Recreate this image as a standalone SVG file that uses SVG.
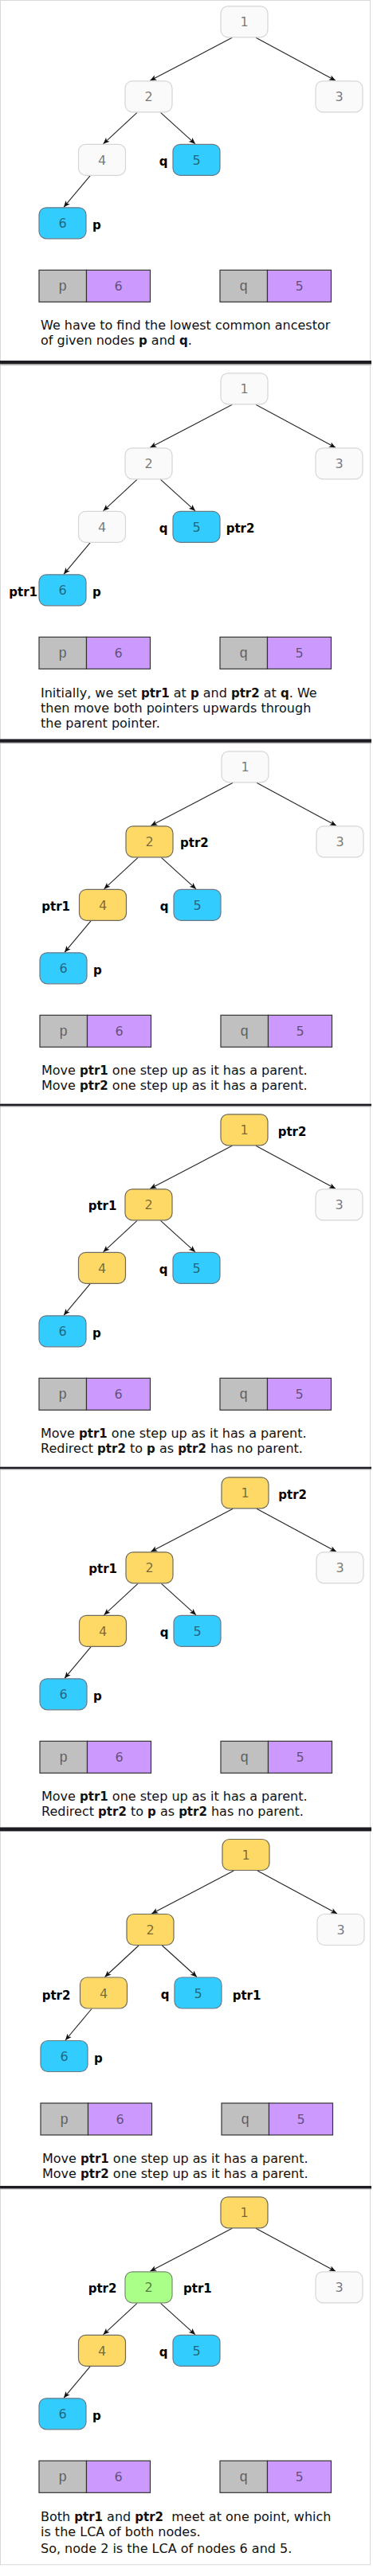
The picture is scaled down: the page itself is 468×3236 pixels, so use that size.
<svg xmlns="http://www.w3.org/2000/svg" width="468" height="3236" viewBox="0 0 468 3236">
<style>
.frame{fill:#fff;stroke:#d9d9d9;stroke-width:1}
.bar{fill:#1c1c22}
.barl{fill:#9a9a9a}
.nw{fill:#fafafa;stroke:#d6d6d6;stroke-width:1.2}
.nc{fill:#33ccff;stroke:#6a7a85;stroke-width:1.2}
.ny{fill:#ffd966;stroke:#6e6a5a;stroke-width:1.2}
.ng{fill:#aaff88;stroke:#7a8a72;stroke-width:1.2}
.num{font-family:"DejaVu Sans",Verdana,sans-serif;font-size:16px;fill:#1a1a1a;fill-opacity:.6;text-anchor:middle}
.tl{font-family:"Liberation Mono","Courier New",monospace;font-size:18px;fill:#1a1a1a;fill-opacity:.6;text-anchor:middle}
.tk{fill:#c0c0c0;stroke:#333;stroke-width:1.2}
.tv{fill:#cc99ff;stroke:#333;stroke-width:1.2}
.lbl{font-family:"DejaVu Sans",Verdana,sans-serif;font-size:15px;font-weight:bold;fill:#000}
.end{text-anchor:end}
.d{font-family:"DejaVu Sans",Verdana,sans-serif;font-size:16px;fill:#111;white-space:pre}
.b{font-weight:bold;font-size:15px}
.e{stroke:#222;stroke-width:1.1;fill:none;marker-end:url(#ah)}
</style>
<defs>
<marker id="ah" markerUnits="userSpaceOnUse" markerWidth="9" markerHeight="8" refX="8" refY="4" orient="auto">
<path d="M0,0.6 L8,4 L0,7.4 L2,4 Z" fill="#111"/>
</marker>
</defs>
<rect width="468" height="3236" fill="#fff"/>
<g id="frames">
<rect class="frame" x="0.5" y="0.5" width="464" height="453"/>
<rect class="frame" x="0.5" y="458.7" width="464" height="470"/>
<rect class="frame" x="0.5" y="933" width="464" height="454"/>
<rect class="frame" x="0.5" y="1389.3" width="464" height="454"/>
<rect class="frame" x="0.5" y="1845.3" width="464" height="451"/>
<rect class="frame" x="0.5" y="2300" width="464" height="446"/>
<rect class="frame" x="0.5" y="2749.3" width="464" height="472.5"/>
<rect class="bar" x="0" y="453" width="466" height="4.3"/><rect class="barl" x="0" y="457.3" width="466" height="1.2"/>
<rect class="bar" x="0" y="928.5" width="466" height="4.3"/><rect class="barl" x="0" y="932.8" width="466" height="1"/>
<rect class="bar" x="0" y="1386.7" width="466" height="2.7"/><rect class="barl" x="0" y="1389.4" width="466" height="1"/>
<rect class="bar" x="0" y="1842.7" width="466" height="2.6"/><rect class="barl" x="0" y="1845.3" width="466" height="1"/>
<rect class="bar" x="0" y="2295.5" width="466" height="4.5"/><rect class="barl" x="0" y="2300" width="466" height="1"/>
<rect class="bar" x="0" y="2746" width="466" height="3.3"/><rect class="barl" x="0" y="2749.3" width="466" height="1"/>
</g>

<g id="connectors">
<g transform="translate(0,7.3)">
<path class="e" d="M291.3,40 L188.3,94"/><path class="e" d="M321,40 L421,94"/><path class="e" d="M172,134 L129.5,173.5"/><path class="e" d="M201.5,134 L245,173.5"/><path class="e" d="M113,213.5 L80,253"/>
</g>
<g transform="translate(0,468.3)">
<path class="e" d="M291.3,40 L188.3,94"/><path class="e" d="M321,40 L421,94"/><path class="e" d="M172,134 L129.5,173.5"/><path class="e" d="M201.5,134 L245,173.5"/><path class="e" d="M113,213.5 L80,253"/>
</g>
<g transform="translate(1,943.3)">
<path class="e" d="M291.3,40 L188.3,94"/><path class="e" d="M321,40 L421,94"/><path class="e" d="M172,134 L129.5,173.5"/><path class="e" d="M201.5,134 L245,173.5"/><path class="e" d="M113,213.5 L80,253"/>
</g>
<g transform="translate(0,1399.3)">
<path class="e" d="M291.3,40 L188.3,94"/><path class="e" d="M321,40 L421,94"/><path class="e" d="M172,134 L129.5,173.5"/><path class="e" d="M201.5,134 L245,173.5"/><path class="e" d="M113,213.5 L80,253"/>
</g>
<g transform="translate(1,1855.3)">
<path class="e" d="M291.3,40 L188.3,94"/><path class="e" d="M321,40 L421,94"/><path class="e" d="M172,134 L129.5,173.5"/><path class="e" d="M201.5,134 L245,173.5"/><path class="e" d="M113,213.5 L80,253"/>
</g>
<g transform="translate(2,2310)">
<path class="e" d="M291.3,40 L188.3,94"/><path class="e" d="M321,40 L421,94"/><path class="e" d="M172,134 L129.5,173.5"/><path class="e" d="M201.5,134 L245,173.5"/><path class="e" d="M113,213.5 L80,253"/>
</g>
<g transform="translate(0,2759.3)">
<path class="e" d="M291.3,40 L188.3,94"/><path class="e" d="M321,40 L421,94"/><path class="e" d="M172,134 L129.5,173.5"/><path class="e" d="M201.5,134 L245,173.5"/><path class="e" d="M113,213.5 L80,253"/>
</g>
</g>

<!-- Panel 1 -->
<g id="panel1" transform="translate(0,7.3)">
<g id="p1-n1"><rect class="nw" x="277" y="0.5" width="59" height="39" rx="9"/><text class="num" x="306.5" y="26">1</text></g>
<g id="p1-n2"><rect class="nw" x="157" y="94.5" width="59" height="39" rx="9"/><text class="num" x="186.5" y="120">2</text></g>
<g id="p1-n3"><rect class="nw" x="396" y="94.5" width="59" height="39" rx="9"/><text class="num" x="425.5" y="120">3</text></g>
<g id="p1-n4"><rect class="nw" x="98.5" y="174" width="59" height="39" rx="9"/><text class="num" x="128" y="199.5">4</text></g>
<g id="p1-n5"><rect class="nc" x="217" y="174" width="59" height="39" rx="9"/><text class="num" x="246.5" y="199.5">5</text></g>
<g id="p1-n6"><rect class="nc" x="49" y="253.5" width="59" height="39" rx="9"/><text class="num" x="78.5" y="279">6</text></g>
<text class="lbl end" x="210.5" y="201">q</text>
<text class="lbl" x="116" y="281">p</text>
<g id="p1-tp"><rect class="tk" x="49" y="332" width="59.5" height="40"/><rect class="tv" x="108.5" y="332" width="80" height="40"/><text class="tl" x="78.7" y="358">p</text><text class="num" x="148.5" y="358">6</text></g>
<g id="p1-tq"><rect class="tk" x="276" y="332" width="59.5" height="40"/><rect class="tv" x="335.5" y="332" width="80" height="40"/><text class="tl" x="305.7" y="358">q</text><text class="num" x="375.5" y="358">5</text></g>
<text class="d" x="51" y="407">We have to find the lowest common ancestor</text>
<text class="d" x="51" y="426">of given nodes <tspan class="b">p</tspan> and <tspan class="b">q</tspan>.</text>
</g>

<!-- Panel 2 -->
<g id="panel2" transform="translate(0,468.3)">
<g id="p2-n1"><rect class="nw" x="277" y="0.5" width="59" height="39" rx="9"/><text class="num" x="306.5" y="26">1</text></g>
<g id="p2-n2"><rect class="nw" x="157" y="94.5" width="59" height="39" rx="9"/><text class="num" x="186.5" y="120">2</text></g>
<g id="p2-n3"><rect class="nw" x="396" y="94.5" width="59" height="39" rx="9"/><text class="num" x="425.5" y="120">3</text></g>
<g id="p2-n4"><rect class="nw" x="98.5" y="174" width="59" height="39" rx="9"/><text class="num" x="128" y="199.5">4</text></g>
<g id="p2-n5"><rect class="nc" x="217" y="174" width="59" height="39" rx="9"/><text class="num" x="246.5" y="199.5">5</text></g>
<g id="p2-n6"><rect class="nc" x="49" y="253.5" width="59" height="39" rx="9"/><text class="num" x="78.5" y="279">6</text></g>
<text class="lbl end" x="210.5" y="201">q</text>
<text class="lbl" x="116" y="281">p</text>
<text class="lbl end" x="47" y="281">ptr1</text>
<text class="lbl" x="283.7" y="201">ptr2</text>
<g id="p2-tp"><rect class="tk" x="49" y="332" width="59.5" height="40"/><rect class="tv" x="108.5" y="332" width="80" height="40"/><text class="tl" x="78.7" y="358">p</text><text class="num" x="148.5" y="358">6</text></g>
<g id="p2-tq"><rect class="tk" x="276" y="332" width="59.5" height="40"/><rect class="tv" x="335.5" y="332" width="80" height="40"/><text class="tl" x="305.7" y="358">q</text><text class="num" x="375.5" y="358">5</text></g>
<text class="d" x="51" y="407.5">Initially, we set <tspan class="b">ptr1</tspan> at <tspan class="b">p</tspan> and <tspan class="b">ptr2</tspan> at <tspan class="b">q</tspan>. We</text>
<text class="d" x="51" y="426.5">then move both pointers upwards through</text>
<text class="d" x="51" y="445.5">the parent pointer.</text>
</g>

<!-- Panel 3 -->
<g id="panel3" transform="translate(1,943.3)">
<g id="p3-n1"><rect class="nw" x="277" y="0.5" width="59" height="39" rx="9"/><text class="num" x="306.5" y="26">1</text></g>
<g id="p3-n2"><rect class="ny" x="157" y="94.5" width="59" height="39" rx="9"/><text class="num" x="186.5" y="120">2</text></g>
<g id="p3-n3"><rect class="nw" x="396" y="94.5" width="59" height="39" rx="9"/><text class="num" x="425.5" y="120">3</text></g>
<g id="p3-n4"><rect class="ny" x="98.5" y="174" width="59" height="39" rx="9"/><text class="num" x="128" y="199.5">4</text></g>
<g id="p3-n5"><rect class="nc" x="217" y="174" width="59" height="39" rx="9"/><text class="num" x="246.5" y="199.5">5</text></g>
<g id="p3-n6"><rect class="nc" x="49" y="253.5" width="59" height="39" rx="9"/><text class="num" x="78.5" y="279">6</text></g>
<text class="lbl end" x="210.5" y="201">q</text>
<text class="lbl" x="116" y="281">p</text>
<text class="lbl" x="225" y="121">ptr2</text>
<text class="lbl" x="51.3" y="200.7">ptr1</text>
<g id="p3-tp"><rect class="tk" x="49" y="332" width="59.5" height="40"/><rect class="tv" x="108.5" y="332" width="80" height="40"/><text class="tl" x="78.7" y="358">p</text><text class="num" x="148.5" y="358">6</text></g>
<g id="p3-tq"><rect class="tk" x="276" y="332" width="59.5" height="40"/><rect class="tv" x="335.5" y="332" width="80" height="40"/><text class="tl" x="305.7" y="358">q</text><text class="num" x="375.5" y="358">5</text></g>
<text class="d" x="51" y="407">Move <tspan class="b">ptr1</tspan> one step up as it has a parent.</text>
<text class="d" x="51" y="426">Move <tspan class="b">ptr2</tspan> one step up as it has a parent.</text>
</g>

<!-- Panel 4 -->
<g id="panel4" transform="translate(0,1399.3)">
<g id="p4-n1"><rect class="ny" x="277" y="0.5" width="59" height="39" rx="9"/><text class="num" x="306.5" y="26">1</text></g>
<g id="p4-n2"><rect class="ny" x="157" y="94.5" width="59" height="39" rx="9"/><text class="num" x="186.5" y="120">2</text></g>
<g id="p4-n3"><rect class="nw" x="396" y="94.5" width="59" height="39" rx="9"/><text class="num" x="425.5" y="120">3</text></g>
<g id="p4-n4"><rect class="ny" x="98.5" y="174" width="59" height="39" rx="9"/><text class="num" x="128" y="199.5">4</text></g>
<g id="p4-n5"><rect class="nc" x="217" y="174" width="59" height="39" rx="9"/><text class="num" x="246.5" y="199.5">5</text></g>
<g id="p4-n6"><rect class="nc" x="49" y="253.5" width="59" height="39" rx="9"/><text class="num" x="78.5" y="279">6</text></g>
<text class="lbl end" x="210.5" y="201">q</text>
<text class="lbl" x="116" y="281">p</text>
<text class="lbl" x="348.7" y="27.4">ptr2</text>
<text class="lbl" x="110.7" y="120.7">ptr1</text>
<g id="p4-tp"><rect class="tk" x="49" y="332" width="59.5" height="40"/><rect class="tv" x="108.5" y="332" width="80" height="40"/><text class="tl" x="78.7" y="358">p</text><text class="num" x="148.5" y="358">6</text></g>
<g id="p4-tq"><rect class="tk" x="276" y="332" width="59.5" height="40"/><rect class="tv" x="335.5" y="332" width="80" height="40"/><text class="tl" x="305.7" y="358">q</text><text class="num" x="375.5" y="358">5</text></g>
<text class="d" x="51" y="407">Move <tspan class="b">ptr1</tspan> one step up as it has a parent.</text>
<text class="d" x="51" y="426">Redirect <tspan class="b">ptr2</tspan> to <tspan class="b">p</tspan> as <tspan class="b">ptr2</tspan> has no parent.</text>
</g>

<!-- Panel 5 -->
<g id="panel5" transform="translate(1,1855.3)">
<g id="p5-n1"><rect class="ny" x="277" y="0.5" width="59" height="39" rx="9"/><text class="num" x="306.5" y="26">1</text></g>
<g id="p5-n2"><rect class="ny" x="157" y="94.5" width="59" height="39" rx="9"/><text class="num" x="186.5" y="120">2</text></g>
<g id="p5-n3"><rect class="nw" x="396" y="94.5" width="59" height="39" rx="9"/><text class="num" x="425.5" y="120">3</text></g>
<g id="p5-n4"><rect class="ny" x="98.5" y="174" width="59" height="39" rx="9"/><text class="num" x="128" y="199.5">4</text></g>
<g id="p5-n5"><rect class="nc" x="217" y="174" width="59" height="39" rx="9"/><text class="num" x="246.5" y="199.5">5</text></g>
<g id="p5-n6"><rect class="nc" x="49" y="253.5" width="59" height="39" rx="9"/><text class="num" x="78.5" y="279">6</text></g>
<text class="lbl end" x="210.5" y="201">q</text>
<text class="lbl" x="116" y="281">p</text>
<text class="lbl" x="348.3" y="27.4">ptr2</text>
<text class="lbl" x="110.3" y="120.7">ptr1</text>
<g id="p5-tp"><rect class="tk" x="49" y="332" width="59.5" height="40"/><rect class="tv" x="108.5" y="332" width="80" height="40"/><text class="tl" x="78.7" y="358">p</text><text class="num" x="148.5" y="358">6</text></g>
<g id="p5-tq"><rect class="tk" x="276" y="332" width="59.5" height="40"/><rect class="tv" x="335.5" y="332" width="80" height="40"/><text class="tl" x="305.7" y="358">q</text><text class="num" x="375.5" y="358">5</text></g>
<text class="d" x="51" y="407">Move <tspan class="b">ptr1</tspan> one step up as it has a parent.</text>
<text class="d" x="51" y="426">Redirect <tspan class="b">ptr2</tspan> to <tspan class="b">p</tspan> as <tspan class="b">ptr2</tspan> has no parent.</text>
</g>

<!-- Panel 6 -->
<g id="panel6" transform="translate(2,2310)">
<g id="p6-n1"><rect class="ny" x="277" y="0.5" width="59" height="39" rx="9"/><text class="num" x="306.5" y="26">1</text></g>
<g id="p6-n2"><rect class="ny" x="157" y="94.5" width="59" height="39" rx="9"/><text class="num" x="186.5" y="120">2</text></g>
<g id="p6-n3"><rect class="nw" x="396" y="94.5" width="59" height="39" rx="9"/><text class="num" x="425.5" y="120">3</text></g>
<g id="p6-n4"><rect class="ny" x="98.5" y="174" width="59" height="39" rx="9"/><text class="num" x="128" y="199.5">4</text></g>
<g id="p6-n5"><rect class="nc" x="217" y="174" width="59" height="39" rx="9"/><text class="num" x="246.5" y="199.5">5</text></g>
<g id="p6-n6"><rect class="nc" x="49" y="253.5" width="59" height="39" rx="9"/><text class="num" x="78.5" y="279">6</text></g>
<text class="lbl end" x="210.5" y="201">q</text>
<text class="lbl" x="116" y="281">p</text>
<text class="lbl" x="50.7" y="202">ptr2</text>
<text class="lbl" x="289.7" y="202">ptr1</text>
<g id="p6-tp"><rect class="tk" x="49" y="332" width="59.5" height="40"/><rect class="tv" x="108.5" y="332" width="80" height="40"/><text class="tl" x="78.7" y="358">p</text><text class="num" x="148.5" y="358">6</text></g>
<g id="p6-tq"><rect class="tk" x="276" y="332" width="59.5" height="40"/><rect class="tv" x="335.5" y="332" width="80" height="40"/><text class="tl" x="305.7" y="358">q</text><text class="num" x="375.5" y="358">5</text></g>
<text class="d" x="51" y="407">Move <tspan class="b">ptr1</tspan> one step up as it has a parent.</text>
<text class="d" x="51" y="426">Move <tspan class="b">ptr2</tspan> one step up as it has a parent.</text>
</g>

<!-- Panel 7 -->
<g id="panel7" transform="translate(0,2759.3)">
<g id="p7-n1"><rect class="ny" x="277" y="0.5" width="59" height="39" rx="9"/><text class="num" x="306.5" y="26">1</text></g>
<g id="p7-n2"><rect class="ng" x="157" y="94.5" width="59" height="39" rx="9"/><text class="num" x="186.5" y="120">2</text></g>
<g id="p7-n3"><rect class="nw" x="396" y="94.5" width="59" height="39" rx="9"/><text class="num" x="425.5" y="120">3</text></g>
<g id="p7-n4"><rect class="ny" x="98.5" y="174" width="59" height="39" rx="9"/><text class="num" x="128" y="199.5">4</text></g>
<g id="p7-n5"><rect class="nc" x="217" y="174" width="59" height="39" rx="9"/><text class="num" x="246.5" y="199.5">5</text></g>
<g id="p7-n6"><rect class="nc" x="49" y="253.5" width="59" height="39" rx="9"/><text class="num" x="78.5" y="279">6</text></g>
<text class="lbl end" x="210.5" y="201">q</text>
<text class="lbl" x="116" y="281">p</text>
<text class="lbl" x="110.7" y="120.7">ptr2</text>
<text class="lbl" x="230" y="120.7">ptr1</text>
<g id="p7-tp"><rect class="tk" x="49" y="332" width="59.5" height="40"/><rect class="tv" x="108.5" y="332" width="80" height="40"/><text class="tl" x="78.7" y="358">p</text><text class="num" x="148.5" y="358">6</text></g>
<g id="p7-tq"><rect class="tk" x="276" y="332" width="59.5" height="40"/><rect class="tv" x="335.5" y="332" width="80" height="40"/><text class="tl" x="305.7" y="358">q</text><text class="num" x="375.5" y="358">5</text></g>
<text class="d" x="51" y="407.4">Both <tspan class="b">ptr1</tspan> and <tspan class="b">ptr2</tspan>  meet at one point, which</text>
<text class="d" x="51" y="426.7">is the LCA of both nodes.</text>
<text class="d" x="51" y="447.4">So, node 2 is the LCA of nodes 6 and 5.</text>
</g>
</svg>
